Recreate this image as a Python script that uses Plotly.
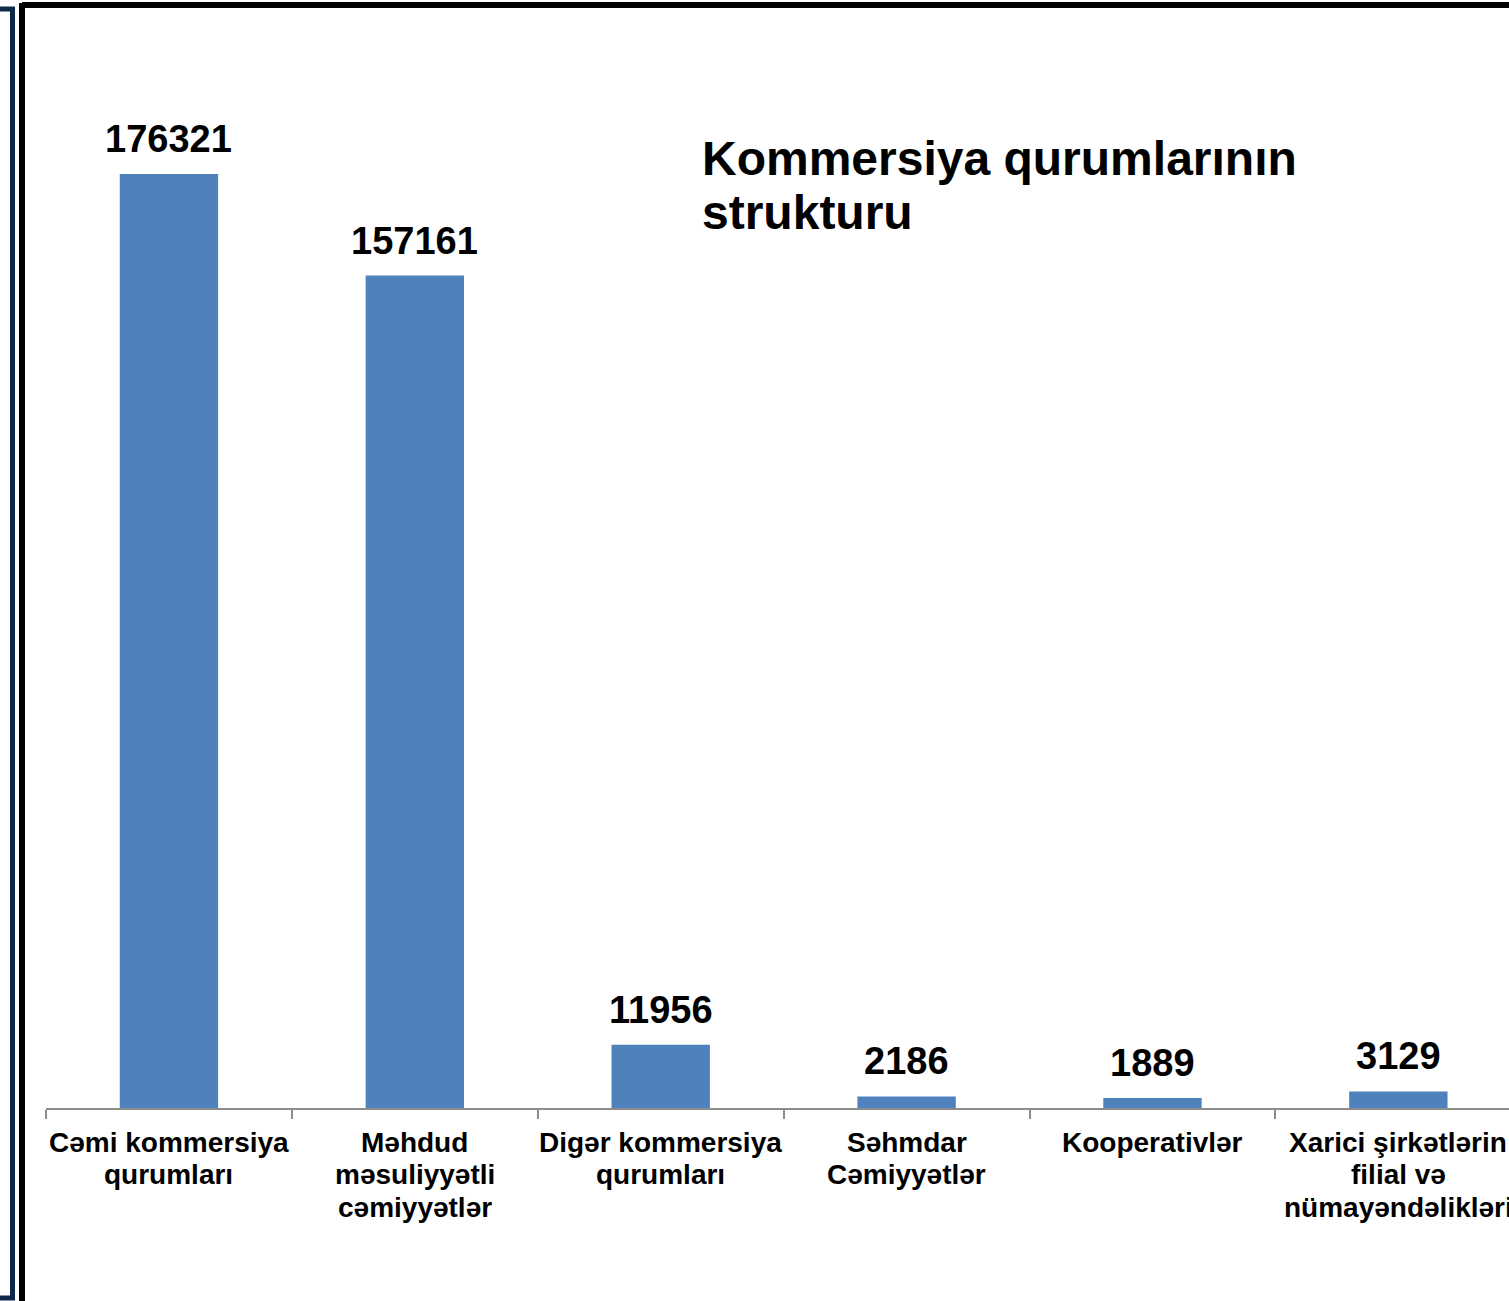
import plotly.graph_objects as go

categories = [
    "Cəmi kommersiya<br>qurumları",
    "Məhdud<br>məsuliyyətli<br>cəmiyyətlər",
    "Digər kommersiya<br>qurumları",
    "Səhmdar<br>Cəmiyyətlər",
    "Kooperativlər",
    "Xarici şirkətlərin<br>filial və<br>nümayəndəlikləri",
]
values = [176321, 157161, 11956, 2186, 1889, 3129]
title_lines = ["Kommersiya qurumlarının", "strukturu"]

W, H = 1509, 1301
L, T, B = 46, 20, 193
plot_w = W - L
plot_h = H - T - B

def px(x):
    return (x - L) / plot_w

def py(y):
    return (H - B - y) / plot_h

FONT = "Liberation Sans, Arial"

fig = go.Figure(go.Bar(
    x=categories, y=values,
    marker=dict(color="#4f81bd", line=dict(width=0)),
    width=0.4,
))

fig.update_layout(
    width=W, height=H,
    margin=dict(l=L, r=0, t=T, b=B),
    paper_bgcolor="white", plot_bgcolor="white",
    showlegend=False,
    font=dict(family=FONT, color="black"),
)
fig.update_xaxes(
    range=[-0.5, 5.45],
    showline=True, linecolor="#8c8c8c", linewidth=2,
    ticks="outside", tickson="boundaries", ticklen=9, tickcolor="#8c8c8c", tickwidth=2,
    showticklabels=False,
    showgrid=False, zeroline=False,
)
fig.update_yaxes(range=[0, 205400], visible=False, showgrid=False, zeroline=False)

# value labels
for c, v in zip(categories, values):
    fig.add_annotation(
        x=c, y=v, xref="x", yref="y", text=str(v), showarrow=False,
        yanchor="bottom", xanchor="center", yshift=12,
        font=dict(family=FONT, size=38, color="black", weight="bold"),
    )

# category labels, one annotation per line for tight line spacing
for c in categories:
    for j, line in enumerate(c.split("<br>")):
        fig.add_annotation(
            x=c, y=0, xref="x", yref="y", text=line, showarrow=False,
            yanchor="middle", xanchor="center", yshift=-(34 + 32.5 * j),
            font=dict(family=FONT, size=28, color="black", weight="bold"),
        )

# title
for j, line in enumerate(title_lines):
    fig.add_annotation(
        xref="paper", yref="paper", x=px(700), y=py(158 + 55 * j),
        xanchor="left", yanchor="middle", align="left",
        text=line, showarrow=False,
        font=dict(family=FONT, size=48, color="black", weight="bold"),
    )

# frame lines
fig.add_shape(type="line", xref="paper", yref="paper",
              x0=px(22), x1=px(W + 5), y0=py(5), y1=py(5),
              line=dict(color="black", width=6))
fig.add_shape(type="line", xref="paper", yref="paper",
              x0=px(22), x1=px(22), y0=py(3), y1=py(H + 5),
              line=dict(color="black", width=6))
fig.add_shape(type="path", xref="paper", yref="paper",
              path=f"M {px(-2)},{py(9)} L {px(12.5)},{py(9)} L {px(12.5)},{py(1298)} L {px(-2)},{py(1298)}",
              line=dict(color="#10294a", width=5))

fig.write_html(
    "out.html",
    config={"displayModeBar": False},
    post_script="document.body.style.margin='0';document.body.style.overflow='hidden';",
)
